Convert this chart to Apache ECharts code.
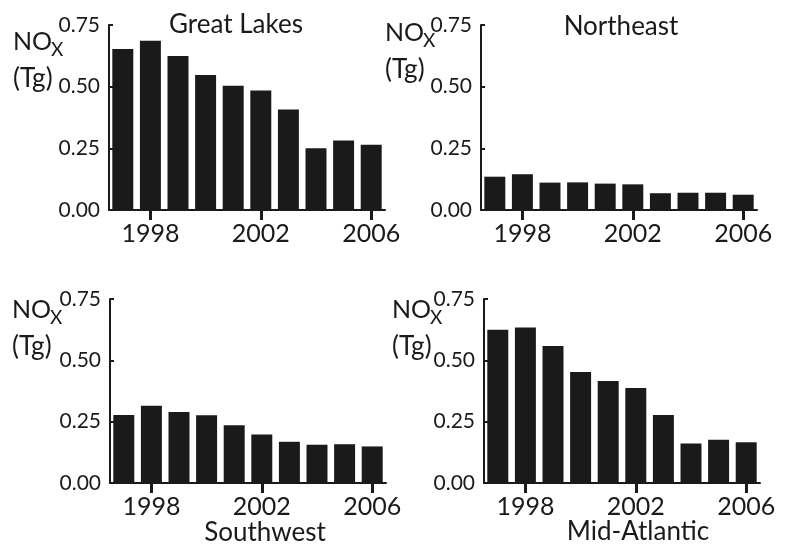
<!DOCTYPE html>
<html>
<head>
<meta charset="utf-8">
<script src="https://cdn.jsdelivr.net/npm/echarts@6/dist/echarts.min.js"></script>
<style>
  html, body { margin: 0; padding: 0; background: #ffffff; }
  #chart { width: 788px; height: 554px; }
</style>
</head>
<body>
<div id="chart"></div>
<script>
// Annual NOx emissions (Tg) by region, 1997-2006
const years = ['1997', '1998', '1999', '2000', '2001', '2002', '2003', '2004', '2005', '2006'];
const greatLakes  = [0.653, 0.686, 0.624, 0.547, 0.504, 0.484, 0.407, 0.250, 0.282, 0.265];
const northeast   = [0.135, 0.145, 0.111, 0.112, 0.107, 0.104, 0.068, 0.070, 0.070, 0.062];
const southwest   = [0.277, 0.315, 0.289, 0.276, 0.235, 0.198, 0.168, 0.156, 0.158, 0.149];
const midAtlantic = [0.625, 0.634, 0.558, 0.452, 0.416, 0.387, 0.277, 0.161, 0.176, 0.166];
const regionNames = ['Great Lakes', 'Northeast', 'Southwest', 'Mid-Atlantic'];
const yMin = 0, yMax = 0.75, yStep = 0.25;

const FONT = 'Lato, "Liberation Sans", sans-serif';
const INK = '#1a1a1a';
const seriesData = [greatLakes, northeast, southwest, midAtlantic];

// panel grid boxes: [left, top, width, height]
const boxes = [
  [109, 25, 276, 185],
  [481, 25, 276, 185],
  [110, 299, 276, 184],
  [484, 299, 276, 184]
];

// labelled years: every fourth year starting at 1998
const showYear = (idx) => idx % 4 === 1;

const grid = [], xAxis = [], yAxis = [], series = [];
boxes.forEach((b, i) => {
  grid.push({ left: b[0], top: b[1], width: b[2], height: b[3], containLabel: false });
  xAxis.push({
    type: 'category', gridIndex: i, data: years,
    axisLine: { lineStyle: { color: INK, width: 2 } },
    axisTick: { show: true, interval: showYear, alignWithLabel: true, length: 10,
                lineStyle: { color: INK, width: 3 } },
    axisLabel: { interval: showYear, color: INK, fontFamily: FONT, fontSize: 25, margin: 11 },
    splitLine: { show: false }
  });
  yAxis.push({
    type: 'value', gridIndex: i, min: yMin, max: yMax, interval: yStep,
    axisLine: { show: true, lineStyle: { color: INK, width: 2 } },
    axisTick: { show: true, inside: true, length: 4, lineStyle: { color: INK, width: 2 } },
    axisLabel: { color: INK, fontFamily: FONT, fontSize: 21, margin: 9,
                 formatter: (v) => v.toFixed(2) },
    splitLine: { show: false }
  });
  series.push({
    type: 'bar', name: regionNames[i], xAxisIndex: i, yAxisIndex: i,
    data: seriesData[i], barCategoryGap: '24%',
    itemStyle: { color: INK }
  });
});

// panel titles and unit labels
function txt(text, x, y, size, align) {
  return { type: 'text', x: x, y: y, silent: true,
           style: { text: text, fill: INK, font: size + 'px ' + FONT,
                    align: align || 'left', verticalAlign: 'middle' } };
}
const titlePos = [[236, 25], [621, 27], [265, 533], [638, 532]];
const unitPos = [[13, 41.5], [385, 33], [12, 310], [392, 309.5]];
const graphics = [];
regionNames.forEach((name, i) => {
  graphics.push(txt(name, titlePos[i][0], titlePos[i][1], 26, 'center'));
  const ux = unitPos[i][0], uy = unitPos[i][1];
  graphics.push(txt('NO', ux, uy, 25));
  graphics.push(txt('X', ux + 38, uy + 8, 19));
  graphics.push(txt('(Tg)', ux, uy + 37, 26));
});

const chart = echarts.init(document.getElementById('chart'), null, { renderer: 'canvas' });
chart.setOption({
  backgroundColor: '#ffffff',
  animation: false,
  grid: grid, xAxis: xAxis, yAxis: yAxis, series: series,
  graphic: graphics
});
</script>
</body>
</html>
